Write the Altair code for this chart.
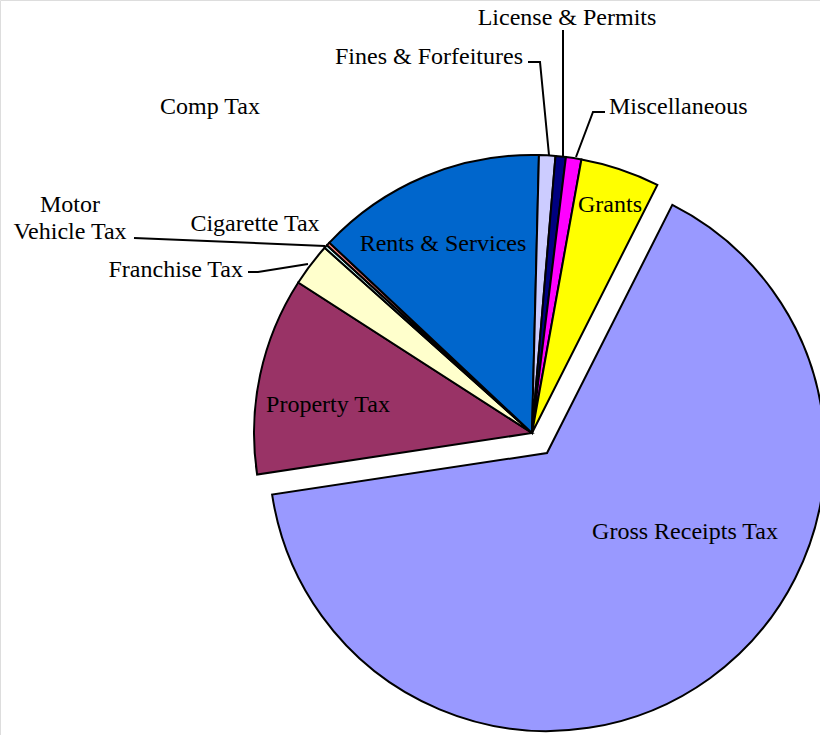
import math
import altair as alt
import pandas as pd

# ---- data ----
categories = ["Gross Receipts Tax", "Property Tax", "Franchise Tax", "Motor Vehicle Tax",
              "Comp Tax", "Cigarette Tax", "Rents & Services", "Fines & Forfeitures",
              "License & Permits", "Miscellaneous", "Grants"]
values = [65.2, 11.5, 2.5, 0.2, 0.0, 0.2, 13.4, 0.95, 0.6, 0.9, 4.6]
colors = ["#9999FF", "#993366", "#FFFFCC", "#CCFFFF", "#660066", "#FF8080",
          "#0066CC", "#CCCCFF", "#000080", "#FF00FF", "#FFFF00"]

pie = pd.DataFrame({"category": categories, "value": values,
                    "idx": list(range(len(categories)))})

# ---- label layout (annotation placement) ----
label_text = ["License & Permits", "Fines & Forfeitures", "Miscellaneous", "Comp Tax",
              "Grants", "Rents & Services", "Cigarette Tax", "Motor", "Vehicle Tax",
              "Franchise Tax", "Property Tax", "Gross Receipts Tax"]
label_x = [567, 523, 609, 210, 610, 443, 255, 70, 70, 243, 328, 685]
label_y = [18, 57, 107, 107, 205, 244, 224, 205, 232, 270, 405, 532]
label_align = ["center", "right", "left", "center", "center", "center", "center",
               "center", "center", "right", "center", "center"]
labels = pd.DataFrame({"text": label_text, "x": label_x, "y": label_y, "align": label_align})

leader_group = ["lic", "lic", "fin", "fin", "fin", "mis", "mis", "mis",
                "mv", "mv", "fr", "fr", "fr"]
leader_x = [563, 563, 528, 540, 549, 605, 593, 576, 134, 325, 248, 258, 308]
leader_y = [30, 156, 62, 62, 155, 112, 112, 157, 238, 246, 272, 272, 264]
leaders = pd.DataFrame({"g": leader_group, "x": leader_x, "y": leader_y,
                        "o": list(range(len(leader_x)))})

start = math.radians(26.8)
theta_scale = alt.Scale(range=[start, start + 2 * math.pi])
color_scale = alt.Scale(domain=categories, range=colors)

base = alt.Chart(pie).encode(
    theta=alt.Theta("value:Q", stack=True, scale=theta_scale),
    order=alt.Order("idx:Q"),
    color=alt.Color("category:N", scale=color_scale, legend=None),
)

is_gross = alt.datum.category == "Gross Receipts Tax"

main = base.mark_arc(outerRadius=278, stroke="black", strokeWidth=2).encode(
    x=alt.value(532), y=alt.value(433),
    opacity=alt.condition(is_gross, alt.value(0), alt.value(1)),
)
exploded = base.mark_arc(outerRadius=278, stroke="black", strokeWidth=2).encode(
    x=alt.value(547), y=alt.value(453),
    opacity=alt.condition(is_gross, alt.value(1), alt.value(0)),
)

lines = alt.Chart(leaders).mark_line(color="black", strokeWidth=2).encode(
    x=alt.X("x:Q", scale=None, axis=None),
    y=alt.Y("y:Q", scale=None, axis=None),
    detail="g:N",
    order="o:Q",
)

def text_layer(al):
    return alt.Chart(labels).transform_filter(alt.datum.align == al).mark_text(
        font="Liberation Serif", fontSize=24, color="black", align=al, baseline="middle"
    ).encode(
        x=alt.X("x:Q", scale=None, axis=None),
        y=alt.Y("y:Q", scale=None, axis=None),
        text="text:N",
    )

chart = alt.layer(main, exploded, lines, text_layer("center"), text_layer("left"),
                  text_layer("right")).properties(
    width=820, height=735, padding=0,
    autosize=alt.AutoSizeParams(type="none"),
).configure_view(stroke=None).configure(background="white")

chart.save("out.html", embed_options={"renderer": "svg", "actions": False})
